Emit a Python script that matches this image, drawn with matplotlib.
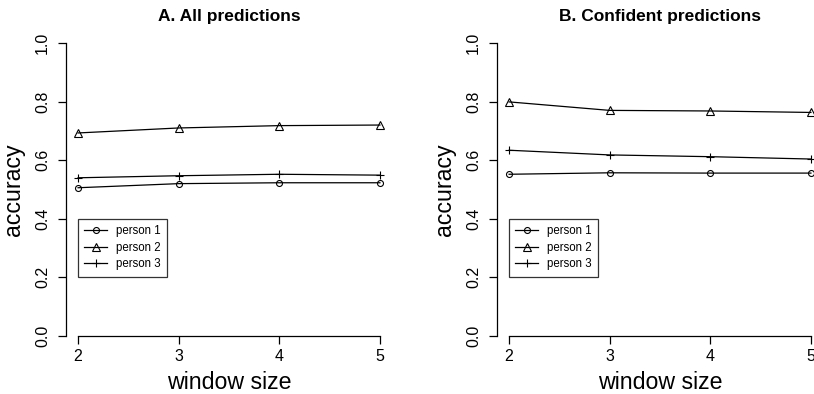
import matplotlib
matplotlib.use("Agg")
import matplotlib.pyplot as plt

plt.rcParams['font.family'] = ['Liberation Sans', 'DejaVu Sans']

window_size = [2, 3, 4, 5]
series_names = ["person 1", "person 2", "person 3"]

# Panel A: All predictions
all_p1 = [0.506, 0.520, 0.523, 0.523]
all_p2 = [0.693, 0.710, 0.718, 0.720]
all_p3 = [0.540, 0.547, 0.552, 0.549]

# Panel B: Confident predictions
conf_p1 = [0.552, 0.557, 0.556, 0.556]
conf_p2 = [0.799, 0.770, 0.768, 0.763]
conf_p3 = [0.634, 0.618, 0.612, 0.604]

titles = ["A. All predictions", "B. Confident predictions"]
y_ticks = [0.0, 0.2, 0.4, 0.6, 0.8, 1.0]
y_ticklabels = ["0.0", "0.2", "0.4", "0.6", "0.8", "1.0"]

W, H = 814, 394
fig = plt.figure(figsize=(W / 100, H / 100), dpi=100)

markers = ['o', '^', '+']
msizes = [4.3, 5.5, 6.0]

panels = [
    (66, titles[0], [all_p1, all_p2, all_p3]),
    (497, titles[1], [conf_p1, conf_p2, conf_p3]),
]

for left_px, title, data in panels:
    ax = fig.add_axes([left_px / W, (H - 336) / H, 326 / W, 293 / H])
    ax.patch.set_alpha(0)
    for vals, name, mk, ms in zip(data, series_names, markers, msizes):
        ax.plot(window_size, vals, color='black', lw=0.9, marker=mk, ms=ms,
                mfc='none', mec='black', mew=0.8, label=name, clip_on=False)
    ax.set_xlim(1.88, 5.12)
    ax.set_ylim(0, 1)
    for s in ['top', 'right']:
        ax.spines[s].set_visible(False)
    ax.spines['left'].set_bounds(0, 1)
    ax.spines['bottom'].set_bounds(2, 5)
    for s in ['left', 'bottom']:
        ax.spines[s].set_linewidth(0.9)
    ax.set_xticks(window_size)
    ax.set_xticklabels([str(v) for v in window_size])
    ax.set_yticks(y_ticks)
    ax.set_yticklabels(y_ticklabels, rotation=90, va='center')
    ax.tick_params(axis='both', direction='out', length=5.5, width=0.9,
                   labelsize=11.5, color='black')
    ax.tick_params(axis='y', pad=6.0)
    ax.tick_params(axis='x', pad=4.0)
    ax.set_xlabel("window size", fontsize=16.7, labelpad=5)
    ax.set_ylabel("accuracy", fontsize=16.7, labelpad=7)
    ax.set_title(title, fontsize=12.5, fontweight='bold', pad=16)
    leg = ax.legend(loc='upper left', bbox_to_anchor=(2, 0.4),
                    bbox_transform=ax.transData, borderaxespad=0,
                    fontsize=8.3, frameon=True, fancybox=False,
                    handlelength=2.0, handletextpad=0.7, borderpad=0.55,
                    labelspacing=0.4)
    leg.get_frame().set_edgecolor('black')
    leg.get_frame().set_linewidth(0.9)

fig.savefig("out.png", dpi=100)
